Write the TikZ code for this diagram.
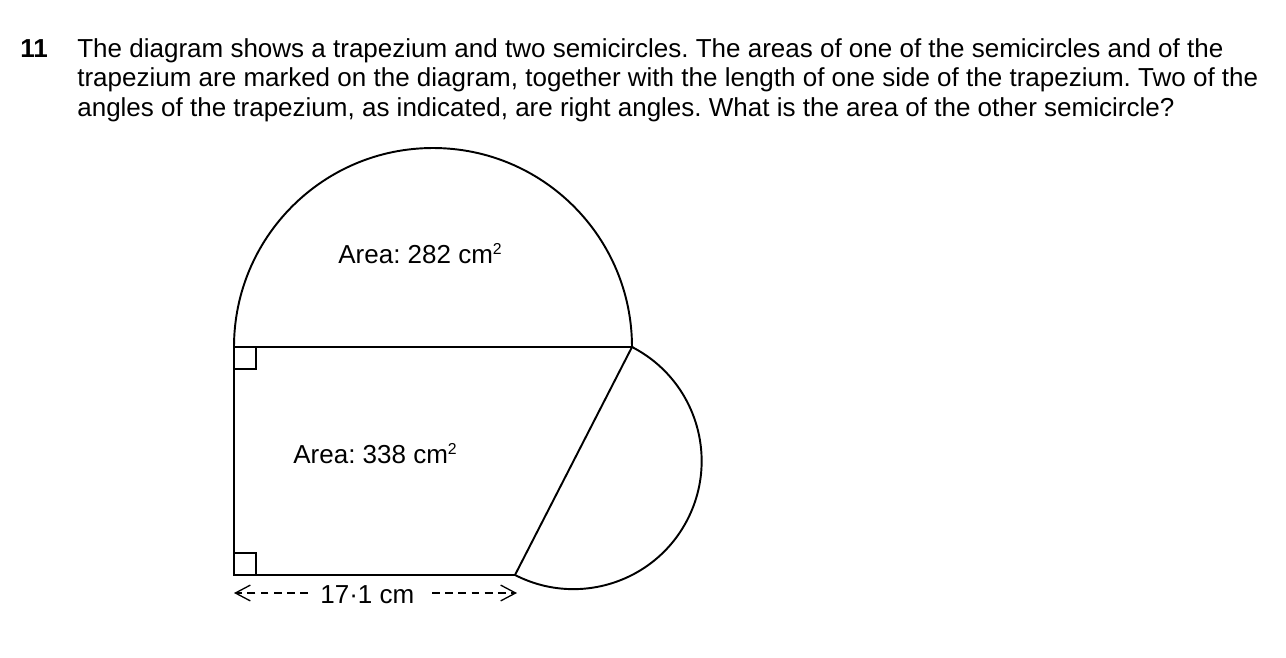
\documentclass[tikz,border=0pt]{standalone}
\usepackage{fontspec}
\setmainfont{Liberation Sans}
\usetikzlibrary{arrows.meta}
\frenchspacing

\newcommand{\cmsq}{\raisebox{4.8pt}{\fontsize{9}{9}\selectfont 2}}

\tikzset{
  shape line/.style={line width=1.1pt},
  dim line/.style={line width=0.75pt, dash pattern=on 4.5pt off 3pt},
  dim tip/.style={-{Straight Barb[length=8.5pt,width=9pt]}},
  txt/.style={anchor=base west, inner sep=0pt}
}

\begin{document}
\begin{tikzpicture}[x=0.02cm, y=-0.02cm, font=\fontsize{14.8}{17.1}\selectfont]
    % 背景与边界
    \fill[white] (0,0) rectangle (1286,657);
    \useasboundingbox (0,0) rectangle (1286,657);

    % 题目文字
    \node[txt, font=\bfseries\fontsize{14.8}{17.1}\selectfont] (qnum) at (20,57) {11};
    \node[txt] (qline1) at (77,57) {The diagram shows a trapezium and two semicircles. The areas of one of the semicircles and of the};
    \node[txt] (qline2) at (77,86.5) {trapezium are marked on the diagram, together with the length of one side of the trapezium. Two of the};
    \node[txt] (qline3) at (77,116) {angles of the trapezium, as indicated, are right angles. What is the area of the other semicircle?};

    % 梯形的四个顶点
    \coordinate (A) at (234,347);
    \coordinate (B) at (632,347);
    \coordinate (C) at (515,575);
    \coordinate (D) at (234,575);

    % 梯形
    \draw[shape line] (A) -- (B) -- (C) -- (D) -- cycle;

    % 上面的半圆
    \draw[shape line] (A) arc[start angle=180, end angle=360, radius=199];

    % 右边的半圆: 半径和起始角
    \pgfmathsetmacro{\rSide}{veclen(632-515,575-347)/2}
    \pgfmathsetmacro{\aSide}{atan2(347-575,632-515)}
    \draw[shape line] (B) arc[start angle=\aSide, end angle=\aSide+180, radius=\rSide];

    % 直角标记
    \draw[shape line] (A) ++(22,0) -- ++(0,22) -- ++(-22,0);
    \draw[shape line] (D) ++(0,-22) -- ++(22,0) -- ++(0,22);

    % 面积
    \node[txt] (areaTop) at (338,263) {Area: 282 cm\cmsq};
    \node[txt] (areaTrap) at (293,463) {Area: 338 cm\cmsq};

    % 底边长度
    \coordinate (dimL) at (234,593);
    \coordinate (dimR) at (517,593);
    \coordinate (dimLend) at (308,593);
    \coordinate (dimRstart) at (432,593);
    \node[txt] (dimLabel) at (320,603) {17·1 cm};
    \draw[dim line, dim tip] (dimLend) -- (dimL);
    \draw[dim line, dim tip] (dimRstart) -- (dimR);

\end{tikzpicture}
\end{document}
